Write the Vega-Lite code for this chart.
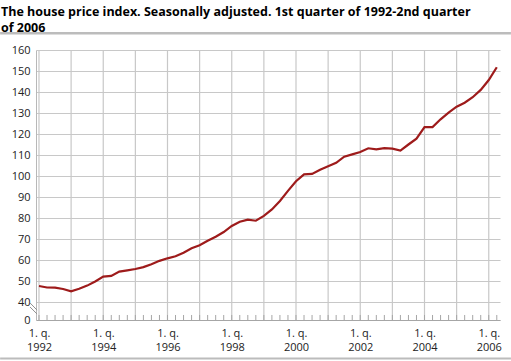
{
  "$schema": "https://vega.github.io/schema/vega-lite/v6.json",
  "width": 464,
  "height": 270,
  "autosize": {"type": "none"},
  "padding": {"left": 36, "top": 50, "right": 11, "bottom": 41},
  "background": "white",
  "config": {
    "view": {"stroke": null},
    "font": "Open Sans",
    "axis": {"labelFont": "Open Sans", "labelFontSize": 11, "labelColor": "#222222", "title": null}
  },
  "title": {
    "text": ["The house price index. Seasonally adjusted. 1st quarter of 1992-2nd quarter", "of 2006"],
    "anchor": "start",
    "frame": "group",
    "font": "Open Sans",
    "fontSize": 12.5,
    "fontWeight": "bold",
    "color": "#000000",
    "lineHeight": 15.5,
    "dx": -35,
    "offset": -2
  },
  "datasets": {
    "index": [
      {"t": 1992.0, "v": 47.6}, {"t": 1992.25, "v": 46.9}, {"t": 1992.5, "v": 46.8}, {"t": 1992.75, "v": 46.2},
      {"t": 1993.0, "v": 45.1}, {"t": 1993.25, "v": 46.3}, {"t": 1993.5, "v": 47.8}, {"t": 1993.75, "v": 49.8},
      {"t": 1994.0, "v": 52.1}, {"t": 1994.25, "v": 52.4}, {"t": 1994.5, "v": 54.5}, {"t": 1994.75, "v": 55.1},
      {"t": 1995.0, "v": 55.7}, {"t": 1995.25, "v": 56.6}, {"t": 1995.5, "v": 58.0}, {"t": 1995.75, "v": 59.6},
      {"t": 1996.0, "v": 60.8}, {"t": 1996.25, "v": 61.8}, {"t": 1996.5, "v": 63.5}, {"t": 1996.75, "v": 65.6},
      {"t": 1997.0, "v": 67.0}, {"t": 1997.25, "v": 69.2}, {"t": 1997.5, "v": 71.1}, {"t": 1997.75, "v": 73.3},
      {"t": 1998.0, "v": 76.2}, {"t": 1998.25, "v": 78.2}, {"t": 1998.5, "v": 79.2}, {"t": 1998.75, "v": 78.7},
      {"t": 1999.0, "v": 81.0}, {"t": 1999.25, "v": 84.1}, {"t": 1999.5, "v": 88.1}, {"t": 1999.75, "v": 92.9},
      {"t": 2000.0, "v": 97.5}, {"t": 2000.25, "v": 100.8}, {"t": 2000.5, "v": 101.0}, {"t": 2000.75, "v": 103.0},
      {"t": 2001.0, "v": 104.6}, {"t": 2001.25, "v": 106.3}, {"t": 2001.5, "v": 109.2}, {"t": 2001.75, "v": 110.3},
      {"t": 2002.0, "v": 111.4}, {"t": 2002.25, "v": 113.2}, {"t": 2002.5, "v": 112.7}, {"t": 2002.75, "v": 113.3},
      {"t": 2003.0, "v": 113.0}, {"t": 2003.25, "v": 112.1}, {"t": 2003.5, "v": 115.0}, {"t": 2003.75, "v": 117.8},
      {"t": 2004.0, "v": 123.3}, {"t": 2004.25, "v": 123.3}, {"t": 2004.5, "v": 127.0}, {"t": 2004.75, "v": 130.2},
      {"t": 2005.0, "v": 133.0}, {"t": 2005.25, "v": 134.9}, {"t": 2005.5, "v": 137.5}, {"t": 2005.75, "v": 141.0},
      {"t": 2006.0, "v": 145.7}, {"t": 2006.25, "v": 151.8}
    ],
    "years": [
      {"t": 1992}, {"t": 1993}, {"t": 1994}, {"t": 1995}, {"t": 1996}, {"t": 1997}, {"t": 1998}, {"t": 1999},
      {"t": 2000}, {"t": 2001}, {"t": 2002}, {"t": 2003}, {"t": 2004}, {"t": 2005}, {"t": 2006}
    ],
    "one": [{"k": 1}]
  },
  "resolve": {"axis": {"x": "independent", "y": "independent"}},
  "layer": [
    {
      "data": {"name": "years"},
      "mark": {"type": "rule", "color": "#c8c8c8", "strokeWidth": 1.2},
      "encoding": {
        "x": {"field": "t", "type": "quantitative",
              "axis": {"orient": "bottom", "labels": false, "ticks": false, "domain": false, "grid": false}}
      }
    },
    {
      "data": {"name": "index"},
      "mark": {"type": "rule", "color": "#a6a6a6", "strokeWidth": 1},
      "encoding": {
        "x": {"field": "t", "type": "quantitative",
              "axis": {"orient": "bottom", "labels": false, "ticks": false, "domain": false, "grid": false}},
        "y": {"datum": 31.4286, "type": "quantitative",
              "axis": {"orient": "left", "labels": false, "ticks": false, "domain": false, "grid": false}},
        "y2": {"datum": 33.81}
      }
    },
    {
      "data": {"name": "index"},
      "mark": {"type": "line", "color": "#9e1b1b", "strokeWidth": 2.2},
      "encoding": {
        "x": {
          "field": "t",
          "type": "quantitative",
          "scale": {"domain": [1991.907, 2006.35], "nice": false, "zero": false},
          "axis": {
            "orient": "bottom",
            "values": [1992, 1994, 1996, 1998, 2000, 2002, 2004, 2006],
            "grid": false,
            "ticks": false,
            "domainColor": "#a6a6a6",
            "labelPadding": 7,
            "labelOverlap": false,
            "labelBound": false,
            "labelFlush": false,
            "labelLineHeight": 14,
            "labelBaseline": "top",
            "labelExpr": "['1. q.', '' + datum.value]"
          }
        },
        "y": {
          "field": "v",
          "type": "quantitative",
          "scale": {"domain": [31.4286, 160], "nice": false, "zero": false},
          "axis": {
            "orient": "left",
            "values": [31.4286, 40, 50, 60, 70, 80, 90, 100, 110, 120, 130, 140, 150, 160],
            "labelExpr": "datum.value < 35 ? '0' : datum.label",
            "grid": true,
            "gridColor": "#c8c8c8",
            "gridWidth": 1.2,
            "ticks": false,
            "domainColor": "#b8b8b8",
            "labelPadding": 6,
            "labelOverlap": false
          }
        }
      }
    },
    {
      "data": {"name": "one"},
      "mark": {"type": "rule", "color": "#909090", "strokeWidth": 1},
      "encoding": {
        "x": {"datum": 1991.72, "type": "quantitative", "axis": {"orient": "bottom", "labels": false, "ticks": false, "domain": false, "grid": false}},
        "x2": {"datum": 1991.94},
        "y": {"datum": 39.57, "type": "quantitative", "axis": {"orient": "left", "labels": false, "ticks": false, "domain": false, "grid": false}},
        "y2": {"datum": 36.14}
      }
    },
    {
      "data": {"name": "one"},
      "mark": {"type": "rule", "color": "#909090", "strokeWidth": 1},
      "encoding": {
        "x": {"datum": 1991.72, "type": "quantitative", "axis": {"orient": "bottom", "labels": false, "ticks": false, "domain": false, "grid": false}},
        "x2": {"datum": 1991.94},
        "y": {"datum": 37.64, "type": "quantitative", "axis": {"orient": "left", "labels": false, "ticks": false, "domain": false, "grid": false}},
        "y2": {"datum": 34.29}
      }
    },
    {
      "data": {"name": "one"},
      "mark": {"type": "rule", "color": "#bcbcbc", "strokeWidth": 2.5},
      "encoding": {
        "x": {"datum": 1990.79, "type": "quantitative", "axis": {"orient": "bottom", "labels": false, "ticks": false, "domain": false, "grid": false}},
        "x2": {"datum": 2006.69},
        "y": {"datum": 167.95, "type": "quantitative", "axis": {"orient": "left", "labels": false, "ticks": false, "domain": false, "grid": false}}
      }
    },
    {
      "data": {"name": "one"},
      "mark": {"type": "rule", "color": "#bcbcbc", "strokeWidth": 2},
      "encoding": {
        "x": {"datum": 1990.79, "type": "quantitative", "axis": {"orient": "bottom", "labels": false, "ticks": false, "domain": false, "grid": false}},
        "x2": {"datum": 2006.69},
        "y": {"datum": 13.1, "type": "quantitative", "axis": {"orient": "left", "labels": false, "ticks": false, "domain": false, "grid": false}}
      }
    }
  ]
}
